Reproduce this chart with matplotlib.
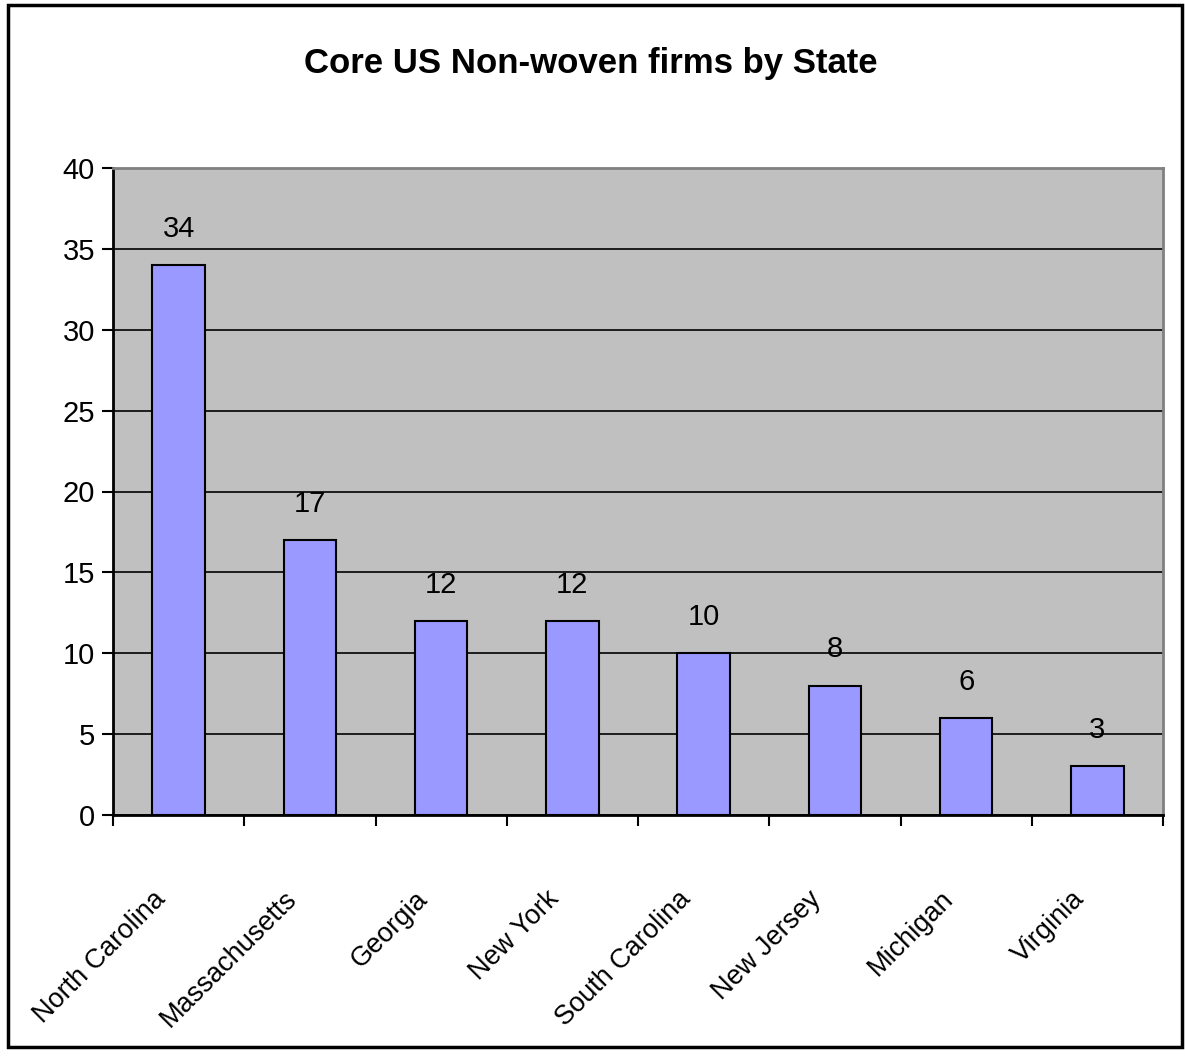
import matplotlib.pyplot as plt
from matplotlib.patches import Rectangle

states = ["North Carolina", "Massachusetts", "Georgia", "New York",
          "South Carolina", "New Jersey", "Michigan", "Virginia"]
firms = [34, 17, 12, 12, 10, 8, 6, 3]
y_ticks = [0, 5, 10, 15, 20, 25, 30, 35, 40]

plt.rcParams['font.family'] = ['Liberation Sans', 'DejaVu Sans']

fig = plt.figure(figsize=(11.85, 10.57), dpi=100)
ax = fig.add_axes([113 / 1185, 1 - 815 / 1057, 1050 / 1185, 647 / 1057])

# outer frame of the chart
fig.patches.append(Rectangle((8 / 1185, 10 / 1057), 1174 / 1185, 1042 / 1057,
                             transform=fig.transFigure, fill=False,
                             edgecolor='black', linewidth=2.5))

ax.set_facecolor('#C0C0C0')
x = list(range(len(states)))
ax.bar(x, firms, width=0.4, color='#9999FF', edgecolor='black', linewidth=1.5, zorder=3)
for xi, v in zip(x, firms):
    ax.annotate(str(v), (xi, v), xytext=(0, 16), textcoords='offset points',
                ha='center', va='bottom', fontsize=21)

ax.set_xlim(-0.5, len(states) - 0.5)
ax.set_ylim(0, 40)
ax.set_yticks(y_ticks)
ax.tick_params(axis='y', labelsize=21, length=8, width=1.5, direction='out', pad=5)
ax.yaxis.grid(True, color='black', linewidth=1.2, zorder=0)
ax.set_axisbelow(True)

# category boundary ticks on x axis
ax.set_xticks([i - 0.5 for i in range(len(states) + 1)])
ax.set_xticklabels([])
ax.tick_params(axis='x', length=8, width=1.5, direction='out')
for xi, name in zip(x, states):
    ax.annotate(name, (xi, 0), xytext=(-19, -51), textcoords='offset points',
                rotation=45, ha='right', va='top', rotation_mode='anchor',
                fontsize=19.5, xycoords='data')

for side in ['left', 'bottom']:
    ax.spines[side].set_linewidth(2)
for side in ['top', 'right']:
    ax.spines[side].set_color('#808080')
    ax.spines[side].set_linewidth(2)

fig.text(591 / 1185, 1 - 63 / 1057, "Core US Non-woven firms by State",
         ha='center', va='center', fontsize=25, fontweight='bold')

fig.savefig("out.png", dpi=100)
